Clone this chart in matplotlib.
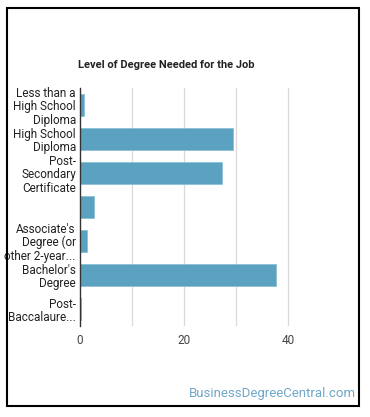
import numpy as np
import matplotlib.pyplot as plt
from matplotlib.patches import Rectangle

plt.rcParams['font.family'] = ['Roboto', 'DejaVu Sans']

categories = ["Less than a\nHigh School\nDiploma",
              "High School\nDiploma",
              "Post-\nSecondary\nCertificate",
              "",
              "Associate's\nDegree (or\nother 2-year...",
              "Bachelor's\nDegree",
              "Post-\nBaccalaure..."]
values = [0.8, 29.5, 27.4, 2.7, 1.4, 37.6, 0.1]
xticks = [0, 20, 40]

fig = plt.figure(figsize=(3.70, 4.17), dpi=100)
ax = fig.add_axes([80/370, 1 - 326/417, 260/370, 238/417])

y = np.arange(len(categories))
ax.barh(y, values, height=0.65, color='#5ba2c0', edgecolor='#8cc0d6', linewidth=0.6, zorder=3)

ax.set_ylim(len(categories) - 0.5, -0.5)
ax.set_xlim(0, 50)
ax.set_yticks(y)
ax.set_yticklabels(categories, fontsize=8.5, color='#222222', linespacing=1.05)
ax.tick_params(axis='y', length=0, pad=3)
ax.set_xticks(xticks)
ax.set_xticklabels([str(v) for v in xticks], fontsize=8.5, color='#444444')
ax.tick_params(axis='x', length=0, pad=6)

for g in [10, 20, 30, 40]:
    ax.axvline(g, color='#d9d9d9', linewidth=0.9, zorder=1)

for s in ['top', 'right', 'bottom']:
    ax.spines[s].set_visible(False)
ax.spines['left'].set_color('#333333')
ax.spines['left'].set_linewidth(1.0)
ax.spines['left'].set_zorder(4)

fig.text(78/370, 1 - 65/417, "Level of Degree Needed for the Job", fontsize=8,
         fontweight='bold', color='#222222', ha='left', va='center')

fig.text(356/370, 1 - 394/417, "BusinessDegreeCentral.com", fontsize=9.5,
         color='#6fa7c9', ha='right', va='center')

fig.patches.append(Rectangle((7/370, 1 - 406/417), 352/370, 398/417, transform=fig.transFigure,
                             fill=False, edgecolor='black', linewidth=1.5))

plt.savefig("out.png", dpi=100)
